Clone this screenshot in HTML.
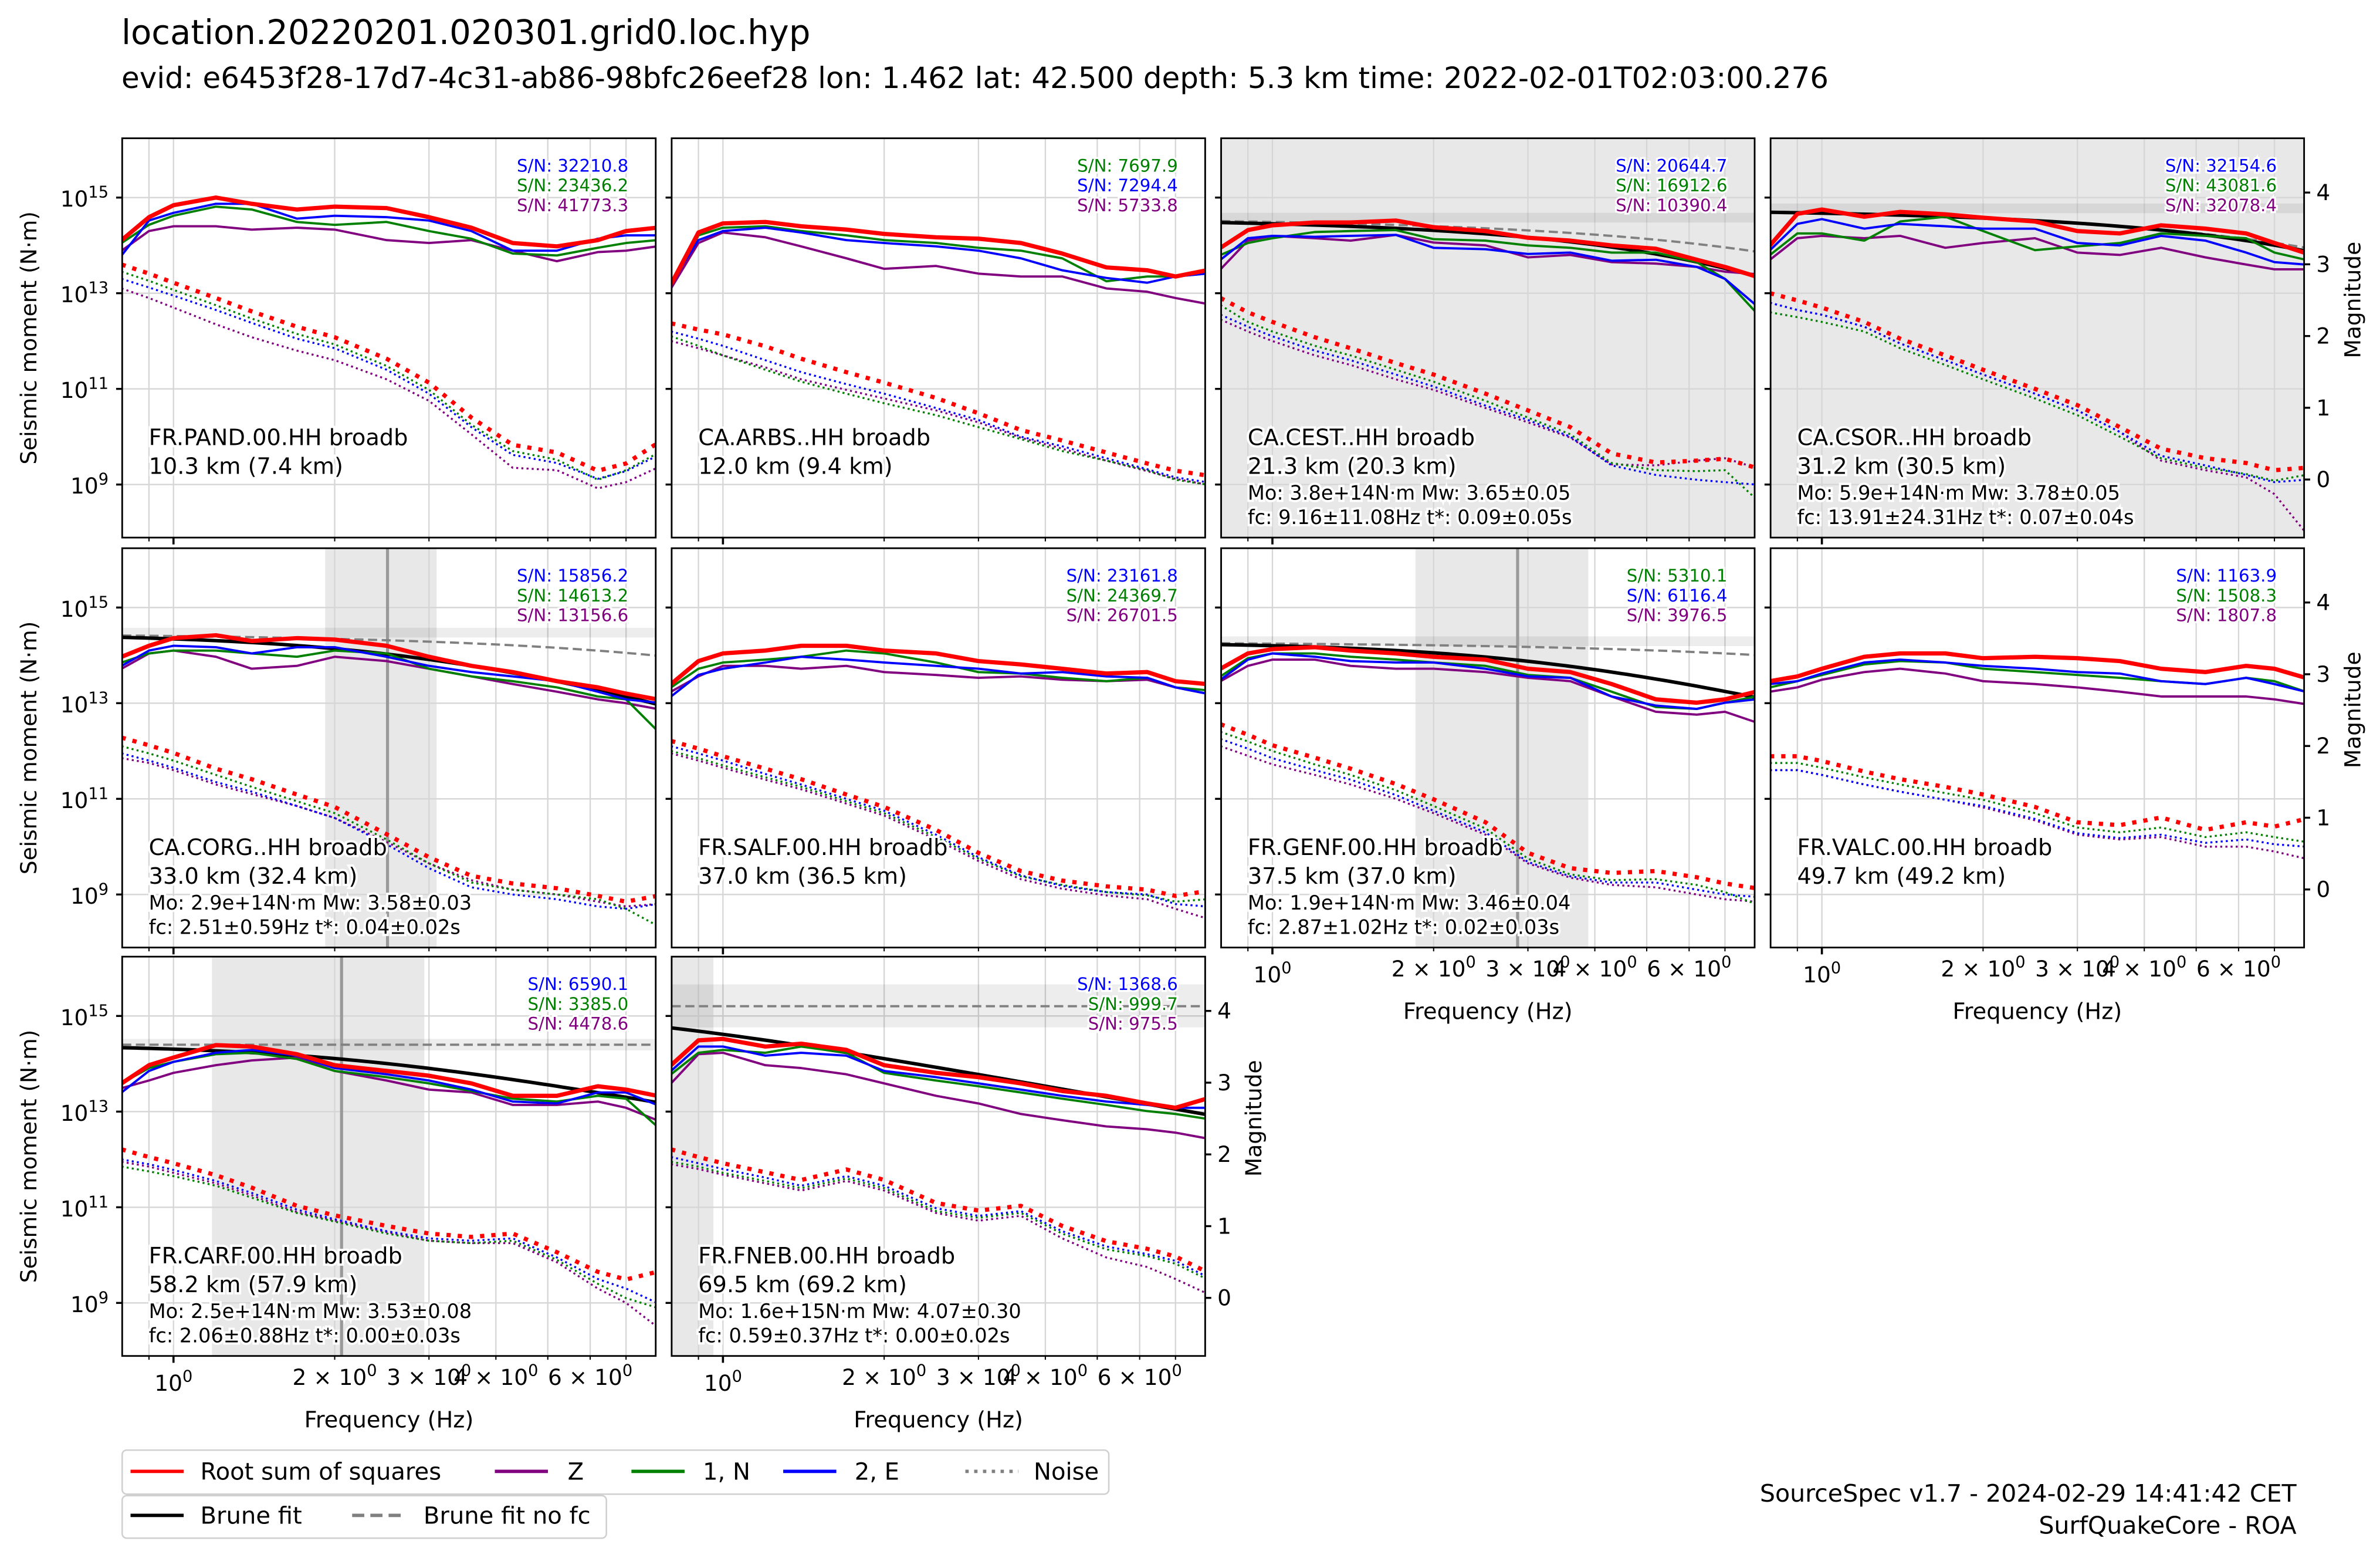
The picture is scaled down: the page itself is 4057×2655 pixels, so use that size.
<!DOCTYPE html>
<html><head><meta charset="utf-8">
<style>
html,body{margin:0;padding:0;background:#fff;}
svg{display:block;}
text{font-family:"DejaVu Sans","Liberation Sans",sans-serif;}
</style></head>
<body>
<svg id="fig" xmlns="http://www.w3.org/2000/svg" width="4057" height="2655" viewBox="0 0 1568 1026">
<rect x="0" y="0" width="1568" height="1026" fill="#fff"/>
<text x="80" y="29" font-size="22.3">location.20220201.020301.grid0.loc.hyp</text>
<text x="80" y="58" font-size="19.3">evid: e6453f28-17d7-4c31-ab86-98bfc26eef28 lon: 1.462 lat: 42.500 depth: 5.3 km time: 2022-02-01T02:03:00.276</text>
<g id="panels"></g>
<g>
  <rect x="80.5" y="955" width="650" height="29" rx="3" fill="#fff" stroke="#d0d0d0" stroke-width="1"/>
  <line x1="86" y1="969" x2="121" y2="969" stroke="#ff0000" stroke-width="2.2"/>
  <text x="132" y="974.5" font-size="15.5">Root sum of squares</text>
  <line x1="326" y1="969" x2="361" y2="969" stroke="#800080" stroke-width="2.2"/>
  <text x="374" y="974.5" font-size="15.5">Z</text>
  <line x1="416" y1="969" x2="451" y2="969" stroke="#008000" stroke-width="2.2"/>
  <text x="463" y="974.5" font-size="15.5">1, N</text>
  <line x1="516" y1="969" x2="551" y2="969" stroke="#0000ff" stroke-width="2.2"/>
  <text x="563" y="974.5" font-size="15.5">2, E</text>
  <line x1="636" y1="969" x2="671" y2="969" stroke="#808080" stroke-width="2.2" stroke-dasharray="2.2 3.6"/>
  <text x="681" y="974.5" font-size="15.5">Noise</text>
  <rect x="80.5" y="985" width="319" height="28" rx="3" fill="#fff" stroke="#d0d0d0" stroke-width="1"/>
  <line x1="86" y1="998" x2="121" y2="998" stroke="#000" stroke-width="2.2"/>
  <text x="132" y="1003.5" font-size="15.5">Brune fit</text>
  <line x1="232" y1="998" x2="267" y2="998" stroke="#808080" stroke-width="2.2" stroke-dasharray="8 4"/>
  <text x="279" y="1003.5" font-size="15.5">Brune fit no fc</text>
</g>
<text x="1513" y="989" font-size="15.9" text-anchor="end">SourceSpec v1.7 - 2024-02-29 14:41:42 CET</text>
<text x="1513" y="1010" font-size="15.9" text-anchor="end">SurfQuakeCore - ROA</text>
</svg>
<script>
// ---- data (log10 of seismic moment, N·m) ----
const freqs=[0.8,0.9,1.0,1.2,1.4,1.7,2.0,2.5,3.0,3.6,4.3,5.2,6.2,7.0,8.0];
const xTicks=[0.9,1,2,3,4,5,6,7];
const xTickLabels=[["1",1],["2 × 10","2"],["3 × 10","3"],["4 × 10","4"],["6 × 10","6"]];
const yTicks=[15,13,11,9];
const magTicks=[0,1,2,3,4];

const pand_rss=[14.11,14.59,14.84,15.0,14.87,14.75,14.81,14.78,14.59,14.37,14.05,13.98,14.11,14.3,14.37];
const pand_z=[13.89,14.30,14.40,14.40,14.33,14.37,14.33,14.11,14.05,14.11,13.89,13.67,13.86,13.89,13.98];
const pand_n=[14.05,14.43,14.62,14.81,14.75,14.49,14.43,14.49,14.30,14.14,13.83,13.79,13.95,14.05,14.11];
const pand_e=[13.79,14.52,14.68,14.87,14.87,14.56,14.62,14.59,14.52,14.30,13.89,13.89,14.14,14.21,14.21];
const pand_nrss=[13.60,13.41,13.22,12.90,12.62,12.30,12.08,11.63,11.13,10.40,9.83,9.67,9.29,9.44,9.86];
const pand_nn=[13.45,13.26,13.07,12.75,12.47,12.15,11.93,11.48,10.98,10.25,9.70,9.52,9.10,9.30,9.65];
const pand_ne=[13.30,13.12,12.95,12.65,12.38,12.05,11.85,11.40,10.90,10.20,9.62,9.45,9.12,9.28,9.60];
const pand_nz=[13.10,12.90,12.70,12.35,12.08,11.80,11.60,11.20,10.75,10.05,9.35,9.30,8.92,9.05,9.35];

const arbs_rss=[13.19,14.27,14.46,14.49,14.40,14.33,14.24,14.17,14.14,14.05,13.83,13.54,13.48,13.35,13.48];
const arbs_z=[13.10,14.05,14.27,14.17,13.98,13.73,13.51,13.57,13.41,13.35,13.35,13.10,13.03,12.90,12.78];
const arbs_n=[13.16,14.21,14.37,14.40,14.30,14.21,14.11,14.05,13.95,13.89,13.73,13.25,13.35,13.35,13.41];
const arbs_e=[13.22,14.11,14.30,14.37,14.27,14.11,14.05,13.98,13.89,13.73,13.48,13.32,13.22,13.35,13.41];
const arbs_nrss=[12.37,12.24,12.14,11.89,11.63,11.35,11.13,10.81,10.49,10.14,9.92,9.67,9.44,9.29,9.19];
const arbs_nn=[12.1,11.9,11.7,11.4,11.15,10.9,10.7,10.45,10.2,9.95,9.7,9.5,9.3,9.1,9.0];
const arbs_ne=[12.2,12.05,11.9,11.6,11.35,11.1,10.9,10.6,10.35,10.0,9.8,9.55,9.32,9.15,9.05];
const arbs_nz=[12.0,11.85,11.7,11.45,11.2,10.98,10.8,10.55,10.3,9.98,9.75,9.5,9.28,9.12,9.0];

const cest_rss=[13.95,14.32,14.42,14.48,14.48,14.52,14.38,14.3,14.16,14.1,14.0,13.93,13.7,13.55,13.35];
const cest_z=[13.5,14.1,14.2,14.15,14.1,14.22,14.06,14.0,13.75,13.8,13.65,13.62,13.55,13.45,13.4];
const cest_n=[13.8,14.05,14.15,14.28,14.3,14.32,14.13,14.1,14.0,13.95,13.85,13.85,13.65,13.3,12.6];
const cest_e=[13.7,14.15,14.2,14.18,14.2,14.22,13.95,13.92,13.82,13.85,13.68,13.7,13.55,13.3,12.75];
const cest_nrss=[12.9,12.6,12.4,12.08,11.85,11.54,11.3,10.9,10.55,10.2,9.65,9.46,9.5,9.54,9.35];
const cest_nn=[12.75,12.4,12.2,11.9,11.7,11.4,11.15,10.75,10.4,10.05,9.45,9.3,9.28,9.3,8.7];
const cest_ne=[12.55,12.3,12.1,11.8,11.6,11.3,11.05,10.65,10.35,10.0,9.4,9.2,9.1,9.05,9.0];
const cest_nz=[12.45,12.2,12.0,11.7,11.5,11.2,10.98,10.6,10.3,9.98,9.42,9.4,9.5,9.55,9.35];

const csor_rss=[14.0,14.66,14.75,14.6,14.7,14.65,14.58,14.5,14.3,14.25,14.42,14.35,14.25,14.05,13.84];
const csor_z=[13.7,14.15,14.2,14.15,14.2,13.95,14.05,14.15,13.85,13.8,13.95,13.75,13.6,13.5,13.5];
const csor_n=[13.8,14.25,14.25,14.1,14.5,14.6,14.3,13.9,13.98,14.05,14.25,14.2,14.15,13.85,13.7];
const csor_e=[13.9,14.45,14.55,14.35,14.45,14.4,14.35,14.35,14.05,14.0,14.2,14.1,13.85,13.65,13.6];
const csor_nrss=[13.0,12.85,12.7,12.4,12.05,11.7,11.4,11.0,10.66,10.2,9.75,9.55,9.45,9.3,9.35];
const csor_nn=[12.6,12.5,12.4,12.2,11.85,11.5,11.2,10.8,10.45,10.0,9.55,9.35,9.22,9.08,9.2];
const csor_ne=[12.8,12.65,12.55,12.3,11.95,11.6,11.3,10.9,10.55,10.1,9.6,9.4,9.2,9.05,9.1];
const csor_nz=[12.8,12.65,12.55,12.3,11.95,11.6,11.3,10.9,10.55,10.1,9.5,9.3,9.15,8.8,8.0];

const corg_rss=[13.97,14.2,14.36,14.42,14.3,14.36,14.33,14.2,13.97,13.78,13.65,13.46,13.33,13.2,13.08];
const corg_z=[13.72,14.04,14.1,13.97,13.72,13.78,13.97,13.88,13.72,13.56,13.4,13.24,13.08,13.0,12.88];
const corg_n=[13.85,14.04,14.1,14.1,14.04,13.97,14.1,14.04,13.72,13.56,13.46,13.33,13.14,13.08,12.43];
const corg_e=[13.78,14.1,14.2,14.17,14.04,14.17,14.17,13.97,13.78,13.65,13.56,13.46,13.24,13.08,13.01];
const corg_nrss=[12.28,12.12,11.96,11.63,11.41,11.09,10.83,10.26,9.78,9.39,9.23,9.13,8.97,8.85,8.97];
const corg_nn=[12.1,11.95,11.8,11.5,11.25,10.95,10.7,10.15,9.65,9.25,9.1,9.0,8.9,8.7,8.35];
const corg_ne=[11.95,11.8,11.65,11.35,11.15,10.85,10.6,10.05,9.55,9.15,9.0,8.9,8.75,8.7,8.8];
const corg_nz=[11.85,11.75,11.6,11.3,11.1,10.85,10.6,10.1,9.65,9.3,9.1,9.0,8.85,8.75,8.8];

const salf_rss=[13.4,13.88,14.04,14.1,14.2,14.2,14.1,14.04,13.88,13.81,13.72,13.62,13.65,13.46,13.4];
const salf_z=[13.24,13.56,13.78,13.78,13.72,13.78,13.65,13.59,13.53,13.56,13.49,13.46,13.49,13.33,13.2];
const salf_n=[13.33,13.72,13.85,13.91,13.97,14.1,14.04,13.85,13.65,13.62,13.53,13.46,13.53,13.33,13.27];
const salf_e=[13.14,13.59,13.72,13.85,13.97,13.91,13.85,13.78,13.72,13.62,13.65,13.56,13.53,13.33,13.2];
const salf_nrss=[12.21,12.05,11.89,11.63,11.41,11.09,10.83,10.35,9.87,9.49,9.29,9.17,9.1,8.97,9.07];
const salf_nn=[12.0,11.85,11.7,11.45,11.25,10.95,10.7,10.2,9.75,9.38,9.2,9.05,8.98,8.85,8.9];
const salf_ne=[12.1,11.95,11.8,11.52,11.3,11.0,10.75,10.25,9.78,9.4,9.18,9.05,9.0,8.8,8.75];
const salf_nz=[11.95,11.8,11.65,11.4,11.2,10.9,10.65,10.15,9.7,9.32,9.12,8.98,8.9,8.7,8.5];

const genf_rss=[13.72,14.04,14.13,14.17,14.1,14.04,13.97,13.91,13.72,13.65,13.4,13.08,13.01,13.08,13.24];
const genf_z=[13.46,13.78,13.91,13.91,13.78,13.72,13.72,13.65,13.53,13.46,13.14,12.82,12.76,12.82,12.6];
const genf_n=[13.56,13.94,14.04,14.04,13.97,13.91,13.85,13.78,13.59,13.53,13.24,12.92,12.88,13.01,13.14];
const genf_e=[13.49,13.91,14.04,13.97,13.88,13.85,13.85,13.72,13.56,13.53,13.14,12.95,12.88,13.01,13.08];
const genf_nrss=[12.56,12.34,12.12,11.86,11.63,11.31,10.99,10.51,9.87,9.55,9.45,9.49,9.36,9.23,9.13];
const genf_nn=[12.4,12.2,12.0,11.72,11.5,11.18,10.85,10.38,9.75,9.42,9.3,9.32,9.2,9.05,8.8];
const genf_ne=[12.25,12.05,11.85,11.6,11.4,11.08,10.75,10.3,9.68,9.38,9.25,9.25,9.1,9.0,8.95];
const genf_nz=[12.1,11.9,11.72,11.5,11.3,11.0,10.7,10.25,9.65,9.35,9.2,9.15,9.0,8.9,8.85];

const valc_rss=[13.46,13.56,13.72,13.97,14.04,14.04,13.94,13.97,13.94,13.88,13.72,13.65,13.78,13.72,13.53];
const valc_z=[13.24,13.33,13.49,13.65,13.72,13.62,13.46,13.4,13.33,13.24,13.14,13.14,13.14,13.08,12.98];
const valc_n=[13.33,13.46,13.59,13.81,13.88,13.85,13.72,13.65,13.59,13.53,13.46,13.4,13.53,13.46,13.24];
const valc_e=[13.4,13.46,13.62,13.85,13.91,13.85,13.78,13.72,13.65,13.62,13.46,13.4,13.53,13.4,13.24];
const valc_nrss=[11.89,11.89,11.79,11.57,11.41,11.25,11.09,10.83,10.51,10.45,10.61,10.35,10.51,10.42,10.58];
const valc_nn=[11.75,11.75,11.65,11.45,11.3,11.12,10.98,10.7,10.4,10.3,10.4,10.2,10.3,10.2,10.1];
const valc_ne=[11.6,11.6,11.5,11.3,11.15,10.98,10.85,10.58,10.28,10.18,10.25,10.08,10.15,10.05,10.0];
const valc_nz=[11.6,11.6,11.5,11.3,11.15,10.98,10.82,10.55,10.25,10.15,10.2,10.0,10.0,9.9,9.75];

const carf_rss=[13.59,13.97,14.13,14.39,14.36,14.2,13.97,13.85,13.75,13.59,13.33,13.33,13.53,13.46,13.33];
const carf_z=[13.49,13.65,13.81,13.97,14.07,14.13,13.85,13.65,13.46,13.4,13.14,13.14,13.21,13.08,12.82];
const carf_n=[13.59,13.91,14.04,14.2,14.23,14.1,13.85,13.72,13.59,13.43,13.27,13.21,13.33,13.27,12.69];
const carf_e=[13.4,13.85,14.04,14.23,14.29,14.17,13.91,13.78,13.65,13.46,13.21,13.17,13.4,13.4,13.14];
const carf_nrss=[12.21,12.05,11.92,11.67,11.41,11.03,10.83,10.61,10.45,10.38,10.45,10.06,9.65,9.49,9.65];
const carf_nn=[11.85,11.75,11.65,11.45,11.2,10.88,10.7,10.45,10.3,10.25,10.3,9.9,9.4,9.1,8.9];
const carf_ne=[12.0,11.9,11.78,11.55,11.3,10.95,10.75,10.5,10.35,10.3,10.35,9.95,9.5,9.3,9.0];
const carf_nz=[11.95,11.85,11.72,11.5,11.25,10.9,10.72,10.48,10.3,10.25,10.25,9.85,9.3,9.0,8.5];

const fneb_rss=[13.97,14.49,14.52,14.36,14.42,14.29,13.97,13.81,13.72,13.59,13.43,13.33,13.17,13.08,13.27];
const fneb_z=[13.59,14.2,14.23,13.97,13.91,13.78,13.59,13.33,13.17,12.95,12.82,12.69,12.63,12.56,12.44];
const fneb_n=[13.78,14.23,14.29,14.23,14.36,14.23,13.81,13.65,13.53,13.4,13.27,13.14,13.01,12.95,12.85];
const fneb_e=[13.85,14.36,14.36,14.17,14.23,14.17,13.85,13.72,13.59,13.46,13.33,13.21,13.14,13.08,13.08];
const fneb_nrss=[12.21,12.05,11.92,11.73,11.57,11.79,11.57,11.09,10.93,11.03,10.61,10.29,10.13,9.97,9.65];
const fneb_nn=[11.95,11.85,11.72,11.55,11.4,11.6,11.4,10.92,10.78,10.88,10.45,10.12,9.98,9.82,9.5];
const fneb_ne=[12.05,11.92,11.8,11.62,11.45,11.65,11.45,10.98,10.82,10.92,10.5,10.18,10.02,9.88,9.55];
const fneb_nz=[11.9,11.8,11.68,11.5,11.35,11.55,11.35,10.88,10.72,10.82,10.35,9.95,9.75,9.5,9.2];

// station labels / S/N / fit parameters
const stationNames=["FR.PAND.00.HH broadb","CA.ARBS..HH broadb","CA.CEST..HH broadb","CA.CSOR..HH broadb","CA.CORG..HH broadb","FR.SALF.00.HH broadb","FR.GENF.00.HH broadb","FR.VALC.00.HH broadb","FR.CARF.00.HH broadb","FR.FNEB.00.HH broadb"];
const stationDist=["10.3 km (7.4 km)","12.0 km (9.4 km)","21.3 km (20.3 km)","31.2 km (30.5 km)","33.0 km (32.4 km)","37.0 km (36.5 km)","37.5 km (37.0 km)","49.7 km (49.2 km)","58.2 km (57.9 km)","69.5 km (69.2 km)"];
const snText=[["32210.8","23436.2","41773.3"],["7697.9","7294.4","5733.8"],["20644.7","16912.6","10390.4"],["32154.6","43081.6","32078.4"],["15856.2","14613.2","13156.6"],["23161.8","24369.7","26701.5"],["5310.1","6116.4","3976.5"],["1163.9","1508.3","1807.8"],["6590.1","3385.0","4478.6"],["1368.6","999.7","975.5"]];
const snColors=[["blue","green","purple"],["green","blue","purple"],["blue","green","purple"],["blue","green","purple"],["blue","green","purple"],["blue","green","purple"],["green","blue","purple"],["blue","green","purple"],["blue","green","purple"],["blue","green","purple"]];
const fitMo=[null,null,3.8e14,5.9e14,2.9e14,null,1.9e14,null,2.5e14,1.6e15];
const fitMw=[null,null,3.65,3.78,3.58,null,3.46,null,3.53,4.07];
const fitMwErr=[null,null,0.05,0.05,0.03,null,0.04,null,0.08,0.30];
const fitFc=[null,null,9.16,13.91,2.51,null,2.87,null,2.06,0.59];
const fitFcErr=[null,null,11.08,24.31,0.59,null,1.02,null,0.88,0.37];
const fitTstar=[null,null,0.09,0.07,0.04,null,0.02,null,0.00,0.00];
const fitTstarErr=[null,null,0.05,0.04,0.02,null,0.03,null,0.03,0.02];
const nofcTstar=[null,null,0.065,0.075,0.043,null,0.025,null,0.0,0.0];
const spectra=[
 [pand_rss,pand_z,pand_n,pand_e,pand_nrss,pand_nz,pand_nn,pand_ne],
 [arbs_rss,arbs_z,arbs_n,arbs_e,arbs_nrss,arbs_nz,arbs_nn,arbs_ne],
 [cest_rss,cest_z,cest_n,cest_e,cest_nrss,cest_nz,cest_nn,cest_ne],
 [csor_rss,csor_z,csor_n,csor_e,csor_nrss,csor_nz,csor_nn,csor_ne],
 [corg_rss,corg_z,corg_n,corg_e,corg_nrss,corg_nz,corg_nn,corg_ne],
 [salf_rss,salf_z,salf_n,salf_e,salf_nrss,salf_nz,salf_nn,salf_ne],
 [genf_rss,genf_z,genf_n,genf_e,genf_nrss,genf_nz,genf_nn,genf_ne],
 [valc_rss,valc_z,valc_n,valc_e,valc_nrss,valc_nz,valc_nn,valc_ne],
 [carf_rss,carf_z,carf_n,carf_e,carf_nrss,carf_nz,carf_nn,carf_ne],
 [fneb_rss,fneb_z,fneb_n,fneb_e,fneb_nrss,fneb_nz,fneb_nn,fneb_ne]];

// ---- layout ----
const NS="http://www.w3.org/2000/svg";
const colX=[80.5,442.5,804.5,1166.5], rowY=[91,361,630];
const PW=351.5, PH=263, PXD=352.8, PYD=31.5, LOGF0=-0.0958, LOGM_TOP=16.24;
const slots=[[0,0],[0,1],[0,2],[0,3],[1,0],[1,1],[1,2],[1,3],[2,0],[2,1]];
const root=document.getElementById('panels');
function el(tag,attrs,parent){const e=document.createElementNS(NS,tag);for(const k in attrs)e.setAttribute(k,attrs[k]);(parent||root).appendChild(e);return e;}
function mkX(x0){return f=>x0+(Math.log10(f)-LOGF0)*PXD;}
function mkY(y0){return m=>y0+(LOGM_TOP-m)*PYD;}
function magToLogM(mw){return 1.5*(mw+6.07);}
function path(xs,ys,vals,xf,yf){return vals.map((v,i)=>(i?'L':'M')+xf(xs[i]).toFixed(2)+','+yf(v).toFixed(2)).join('');}
const fineF=[];for(let i=0;i<=80;i++)fineF.push(Math.pow(10,LOGF0+i*(PW/PXD)/80));

slots.forEach((s,idx)=>{
  const [r,c]=s, x0=colX[c], y0=rowY[r], X=mkX(x0), Y=mkY(y0);
  const g=el('g',{});
  
  
  const cid='clip'+idx;
  const cp=el('clipPath',{id:cid},g); el('rect',{x:x0,y:y0,width:PW,height:PH},cp);
  const inner=el('g',{'clip-path':'url(#'+cid+')'},g);
  if(fitFc[idx]!==null){
    const lo=Math.max(fitFc[idx]-fitFcErr[idx],0.01), hi=fitFc[idx]+fitFcErr[idx];
    const xa=Math.max(X(lo),x0), xb=Math.min(X(hi),x0+PW);
    const band=el('rect',{x:xa,y:y0,width:Math.max(0,xb-xa),height:PH,fill:'#e8e8e8'},inner);
    
    
  }
  xTicks.forEach(f=>el('line',{x1:X(f),x2:X(f),y1:y0,y2:y0+PH,stroke:'#d6d6d6','stroke-width':0.9},inner));
  yTicks.forEach(m=>el('line',{x1:x0,x2:x0+PW,y1:Y(m),y2:Y(m),stroke:'#d6d6d6','stroke-width':0.9},inner));
  if(fitFc[idx]!==null){
    const mc=magToLogM(fitMw[idx]), half=Math.max(1.5*fitMwErr[idx]*PYD,3.2);
    const hb=el('rect',{x:x0,y:Y(mc)-half,width:PW,height:2*half,fill:'#000','fill-opacity':0.07},inner);
    
    
    const fl=el('line',{x1:X(fitFc[idx]),x2:X(fitFc[idx]),y1:y0,y2:y0+PH,stroke:'#999','stroke-width':2},inner);
    
    
    const lm=Math.log10(fitMo[idx]);
    const nofc=fineF.map(f=>lm-Math.PI*f*nofcTstar[idx]/Math.LN10);
    const d1=el('path',{d:path(fineF,null,nofc,X,Y),fill:'none',stroke:'#808080','stroke-width':1.5,'stroke-dasharray':'6 3'},inner);
    
    
    const br=fineF.map(f=>lm-Math.log10(1+Math.pow(f/fitFc[idx],2))-Math.PI*f*fitTstar[idx]/Math.LN10);
    const d2=el('path',{d:path(fineF,null,br,X,Y),fill:'none',stroke:'#000','stroke-width':2.3},inner);
    
    
  }
  const sp=spectra[idx];
  const styles=[
    ['#ff0000',2.8,null,'rss-spectrum'],['#800080',1.5,null,'z-spectrum'],['#008000',1.5,null,'n-spectrum'],['#0000ff',1.5,null,'e-spectrum'],
    ['#ff0000',2.8,'2.8 4.6','rss-noise'],['#800080',1.3,'1.3 2.1','z-noise'],['#008000',1.3,'1.3 2.1','n-noise'],['#0000ff',1.3,'1.3 2.1','e-noise']];
  const order=[5,6,7,4,1,2,3,0];
  order.forEach(k=>{
    const st=styles[k];
    const a={d:path(freqs,null,sp[k],X,Y),fill:'none',stroke:st[0],'stroke-width':st[1],'stroke-linejoin':'round'};
    if(st[2])a['stroke-dasharray']=st[2];
    const p=el('path',a,inner);
    
    
  });
  el('rect',{x:x0,y:y0,width:PW,height:PH,fill:'none',stroke:'#000','stroke-width':1.1},g);
  yTicks.forEach(m=>el('line',{x1:x0-4,x2:x0,y1:Y(m),y2:Y(m),stroke:'#000','stroke-width':1.3},g));
  xTicks.forEach(f=>el('line',{x1:X(f),x2:X(f),y1:y0+PH,y2:y0+PH+(f===1?4.5:2.5),stroke:'#000','stroke-width':f===1?1.4:0.8},g));
  snText[idx].forEach((t,j)=>{
    const tx=el('text',{x:x0+PW-18,y:y0+22+j*13,'font-size':11.3,'text-anchor':'end',fill:snColors[idx][j],stroke:'#fff','stroke-width':2.5,'paint-order':'stroke'},g);
    tx.textContent='S/N: '+t;
    
    
  });
  const bx=x0+17.5;
  const t1=el('text',{x:bx,y:y0+202,'font-size':14.8,stroke:'#fff','stroke-width':3,'paint-order':'stroke'},g);
  t1.textContent=stationNames[idx];
  
  
  const t2=el('text',{x:bx,y:y0+221,'font-size':14.8,stroke:'#fff','stroke-width':3,'paint-order':'stroke'},g);
  t2.textContent=stationDist[idx];
  
  
  if(fitFc[idx]!==null){
    const mo=fitMo[idx].toExponential(1);
    const t3=el('text',{x:bx,y:y0+238,'font-size':13,stroke:'#fff','stroke-width':3,'paint-order':'stroke'},g);
    t3.textContent='Mo: '+mo+'N·m Mw: '+fitMw[idx].toFixed(2)+'±'+fitMwErr[idx].toFixed(2);
    
    
    const t4=el('text',{x:bx,y:y0+254,'font-size':13,stroke:'#fff','stroke-width':3,'paint-order':'stroke'},g);
    t4.textContent='fc: '+fitFc[idx].toFixed(2)+'±'+fitFcErr[idx].toFixed(2)+'Hz t*: '+fitTstar[idx].toFixed(2)+'±'+fitTstarErr[idx].toFixed(2)+'s';
    
    
  }
  if(c===0){
    yTicks.forEach(m=>{
      const t=el('text',{x:x0-9,y:Y(m)+6,'font-size':14.5,'text-anchor':'end'},g);
      const a=el('tspan',{},t); a.textContent='10';
      const b=el('tspan',{dy:-6,'font-size':10.5},t); b.textContent=String(m);
      
      
    });
    const yl=el('text',{x:0,y:0,'font-size':14.5,'text-anchor':'middle',transform:'translate(24,'+(y0+PH/2)+') rotate(-90)'},g);
    yl.textContent='Seismic moment (N·m)';
    
    
  }
  if(c===3||(r===2&&c===1)){
    magTicks.forEach(mw=>{
      const yy=Y(magToLogM(mw));
      el('line',{x1:x0+PW,x2:x0+PW+4,y1:yy,y2:yy,stroke:'#000','stroke-width':1.3},g);
      const t=el('text',{x:x0+PW+8,y:yy+5,'font-size':14.5},g);
      t.textContent=String(mw);
      
      
    });
    const ml=el('text',{x:0,y:0,'font-size':14.5,'text-anchor':'middle',transform:'translate('+(x0+PW+37)+','+(y0+PH/2-25)+') rotate(-90)'},g);
    ml.textContent='Magnitude';
    
    
  }
  if(r===2||(r===1&&c>=2)){
    xTickLabels.forEach(lb=>{
      const f=parseFloat(lb[1]);
      const isOne=(lb[0]==='1');
      const t=el('text',{x:X(f),y:y0+PH+(isOne?23:19),'font-size':14.5,'text-anchor':'middle'},g);
      const a=el('tspan',{},t); a.textContent=isOne?'10':lb[0];
      const b=el('tspan',{dy:-6,'font-size':10.5},t); b.textContent='0';
      
      
    });
    const xl=el('text',{x:x0+PW/2,y:y0+PH+47,'font-size':14.8,'text-anchor':'middle'},g);
    xl.textContent='Frequency (Hz)';
    
    
  }
});
</script>
</body></html>
